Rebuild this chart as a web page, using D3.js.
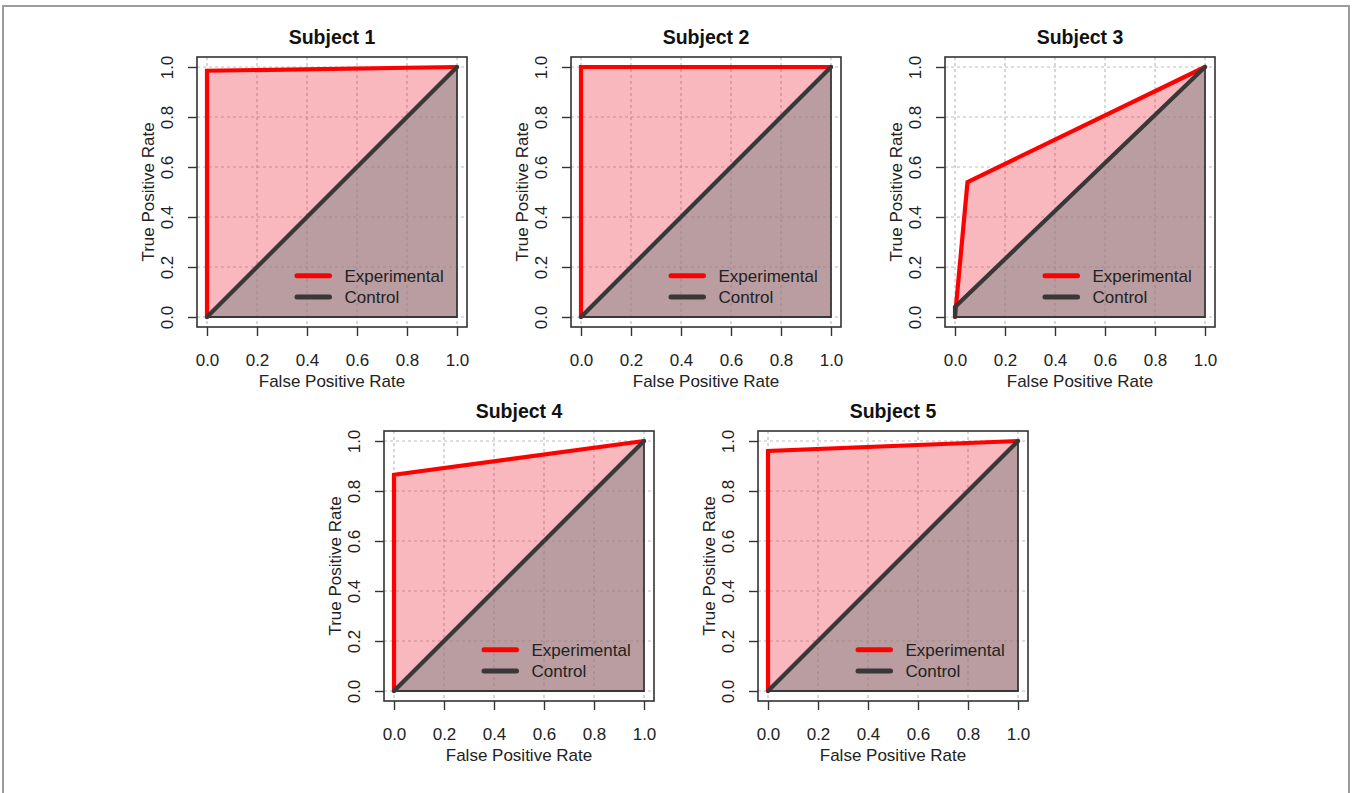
<!DOCTYPE html>
<html>
<head>
<meta charset="utf-8">
<script src="https://cdn.jsdelivr.net/npm/d3@7"></script>
<style>
	body { margin: 0; background: #fff; }
	svg text { font-family: "Liberation Sans", Arial, sans-serif; fill: #222; }
</style>
</head>
<body>
<div class="chart"></div>
<script>

// data
var subjects = ["Subject 1", "Subject 2", "Subject 3", "Subject 4", "Subject 5"];
var seriesNames = ["Experimental", "Control"];
var tickValues = [0, 0.2, 0.4, 0.6, 0.8, 1.0];

// experimental roc curves
var expFpr = [[0, 0, 1], [0, 0, 1], [0, 0.05, 1], [0, 0, 1], [0, 0, 1]];
var expTpr = [[0, 0.985, 1], [0, 1, 1], [0, 0.54, 1], [0, 0.865, 1], [0, 0.96, 1]];

// control roc curves
var ctlFpr = [[0, 1], [0, 1], [0, 0, 1], [0, 1], [0, 1]];
var ctlTpr = [[0, 1], [0, 1], [0, 0.04, 1], [0, 1], [0, 1]];


// layout
var W = 1353, H = 793;
var boxSize = 270;
var panelPos = [[197, 57], [571, 57], [945, 57], [384, 431], [758, 431]];
var red = "#ff0000", dark = "#383838";
var fs = "17px";

var svg = d3.select(".chart")
	.append("svg")
	.attr("width", W)
	.attr("height", H)
	;

// outer frame
svg.append("rect")
	.attr("x", 3).attr("y", 6)
	.attr("width", 1346).attr("height", 820)
	.attr("fill", "none")
	.attr("stroke", "#9c9c9c")
	.attr("stroke-width", 2)
	;

subjects.forEach(function(name, i){
	drawPanel(i);
});


function zipPts(xs, ys){
	return xs.map(function(d, j){ return [d, ys[j]]; });
}

function drawPanel(i){
	var left = panelPos[i][0], top = panelPos[i][1];

	var x = d3.scaleLinear().domain([-0.04, 1.04]).range([left, left + boxSize]);
	var y = d3.scaleLinear().domain([-0.04, 1.04]).range([top + boxSize, top]);

	var g = svg.append("g").attr("class", "panel");

	// grid
	g.selectAll(".vgrid").data(tickValues).enter()
		.append("line")
		.attr("x1", function(d){ return x(d); })
		.attr("x2", function(d){ return x(d); })
		.attr("y1", top).attr("y2", top + boxSize)
		.attr("stroke", "#bdbdbd")
		.attr("stroke-width", 1.2)
		.attr("stroke-dasharray", "3,3")
		;
	g.selectAll(".hgrid").data(tickValues).enter()
		.append("line")
		.attr("y1", function(d){ return y(d); })
		.attr("y2", function(d){ return y(d); })
		.attr("x1", left).attr("x2", left + boxSize)
		.attr("stroke", "#bdbdbd")
		.attr("stroke-width", 1.2)
		.attr("stroke-dasharray", "3,3")
		;

	var area = d3.area()
		.x(function(d){ return x(d[0]); })
		.y0(y(0))
		.y1(function(d){ return y(d[1]); })
		;
	var line = d3.line()
		.x(function(d){ return x(d[0]); })
		.y(function(d){ return y(d[1]); })
		;

	var exp = zipPts(expFpr[i], expTpr[i]);
	var ctl = zipPts(ctlFpr[i], ctlTpr[i]);

	// filled areas
	g.append("path")
		.attr("d", area(exp))
		.attr("fill", "rgb(235,20,40)")
		.attr("fill-opacity", 0.3)
		;
	g.append("path")
		.attr("d", area(ctl))
		.attr("fill", "rgb(138,138,138)")
		.attr("fill-opacity", 0.585)
		.attr("stroke", dark)
		.attr("stroke-width", 1.8)
		;

	// curves
	g.append("path")
		.attr("d", line(exp))
		.attr("fill", "none")
		.attr("stroke", red)
		.attr("stroke-width", 4.2)
		.attr("stroke-linecap", "round")
		;
	g.append("path")
		.attr("d", line(ctl))
		.attr("fill", "none")
		.attr("stroke", dark)
		.attr("stroke-width", 4.2)
		.attr("stroke-linecap", "round")
		;

	// box
	g.append("rect")
		.attr("x", left).attr("y", top)
		.attr("width", boxSize).attr("height", boxSize)
		.attr("fill", "none")
		.attr("stroke", "#333")
		.attr("stroke-width", 1.6)
		;

	// axes
	var xAxis = g.append("g")
		.attr("transform", "translate(0," + (top + boxSize) + ")")
		.call(d3.axisBottom(x).tickValues(tickValues).tickFormat(d3.format(".1f")).tickSize(9).tickSizeOuter(0))
		;
	xAxis.select(".domain").remove();
	xAxis.selectAll("line").attr("stroke", "#333").attr("stroke-width", 1.4);
	xAxis.selectAll("text")
		.attr("y", 38.5).attr("dy", null)
		.attr("font-size", fs)
		.attr("font-family", null)
		;

	var yAxis = g.append("g")
		.attr("transform", "translate(" + left + ",0)")
		.call(d3.axisLeft(y).tickValues(tickValues).tickFormat(d3.format(".1f")).tickSize(9).tickSizeOuter(0))
		;
	yAxis.select(".domain").remove();
	yAxis.selectAll("line").attr("stroke", "#333").attr("stroke-width", 1.4);
	yAxis.selectAll("text")
		.attr("x", 0).attr("dy", null)
		.attr("text-anchor", "middle")
		.attr("transform", "translate(-24,0) rotate(-90)")
		.attr("font-size", fs)
		.attr("font-family", null)
		;

	// labels
	g.append("text")
		.attr("x", left + boxSize / 2)
		.attr("y", top - 13)
		.attr("text-anchor", "middle")
		.attr("font-size", "19.5px")
		.attr("font-weight", "bold")
		.style("fill", "#111")
		.text(subjects[i])
		;
	g.append("text")
		.attr("x", x(0.5))
		.attr("y", top + boxSize + 59.5)
		.attr("text-anchor", "middle")
		.attr("font-size", fs)
		.text("False Positive Rate")
		;
	g.append("text")
		.attr("transform", "translate(" + (left - 43) + "," + y(0.5) + ") rotate(-90)")
		.attr("text-anchor", "middle")
		.attr("font-size", fs)
		.text("True Positive Rate")
		;

	// legend
	var legendY = [0.165, 0.08];
	var legendCol = [red, dark];
	seriesNames.forEach(function(s, k){
		g.append("line")
			.attr("x1", x(0.36)).attr("x2", x(0.49))
			.attr("y1", y(legendY[k])).attr("y2", y(legendY[k]))
			.attr("stroke", legendCol[k])
			.attr("stroke-width", 5)
			.attr("stroke-linecap", "round")
			;
		g.append("text")
			.attr("x", x(0.55))
			.attr("y", y(legendY[k]))
			.attr("dy", "0.36em")
			.attr("font-size", fs)
			.text(s)
			;
	});
}

</script>
</body>
</html>
